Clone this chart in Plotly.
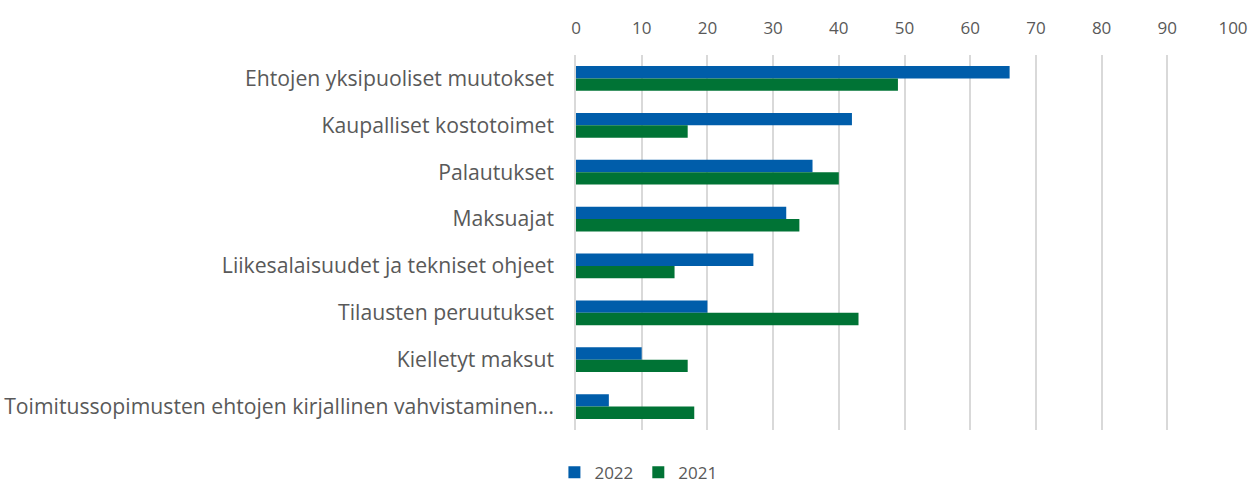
import plotly.graph_objects as go

categories = [
    "Ehtojen yksipuoliset muutokset",
    "Kaupalliset kostotoimet",
    "Palautukset",
    "Maksuajat",
    "Liikesalaisuudet ja tekniset ohjeet",
    "Tilausten peruutukset",
    "Kielletyt maksut",
    "Toimitussopimusten ehtojen kirjallinen vahvistaminen…",
]
vals_2022 = [66, 42, 36, 32, 27, 20, 10, 5]
vals_2021 = [49, 17, 40, 34, 15, 43, 17, 18]
x_ticks = [0, 10, 20, 30, 40, 50, 60, 70, 80, 90, 100]

font_name = "Open Sans"
grey = "#595959"

fig = go.Figure()
fig.add_trace(go.Bar(y=categories, x=vals_2022, orientation="h", name="2022",
                     marker=dict(color="#005DAA", line=dict(width=0))))
fig.add_trace(go.Bar(y=categories, x=vals_2021, orientation="h", name="2021",
                     marker=dict(color="#007335", line=dict(width=0))))

fig.update_layout(
    width=1257, height=491,
    margin=dict(l=576, r=24, t=55, b=61, autoexpand=False),
    paper_bgcolor="white", plot_bgcolor="white",
    barmode="group", bargap=0.47, bargroupgap=0,
    font=dict(family=font_name, color=grey),
    showlegend=True,
    legend=dict(orientation="h", x=0.095, xanchor="center", y=-0.162, yanchor="bottom",
                font=dict(size=17, color=grey), traceorder="normal", itemwidth=30),
    xaxis=dict(side="top", range=[0, 100], tickvals=x_ticks, showgrid=True,
               gridcolor="#D9D9D9", gridwidth=1.5, zeroline=False, showline=False,
               tickfont=dict(size=17, color=grey), ticklabelstandoff=17,
               automargin=False, fixedrange=True),
    yaxis=dict(autorange="reversed", showline=True, linecolor="#D9D9D9", linewidth=1.5,
               showgrid=False, tickfont=dict(size=21.2, color=grey),
               ticklabelstandoff=16, automargin=False, fixedrange=True),
)

# drop the browser's default 8px body margin so the figure fills the window
fig.write_html("out.html", config={"displayModeBar": False},
               post_script="document.body.style.margin='0';")
